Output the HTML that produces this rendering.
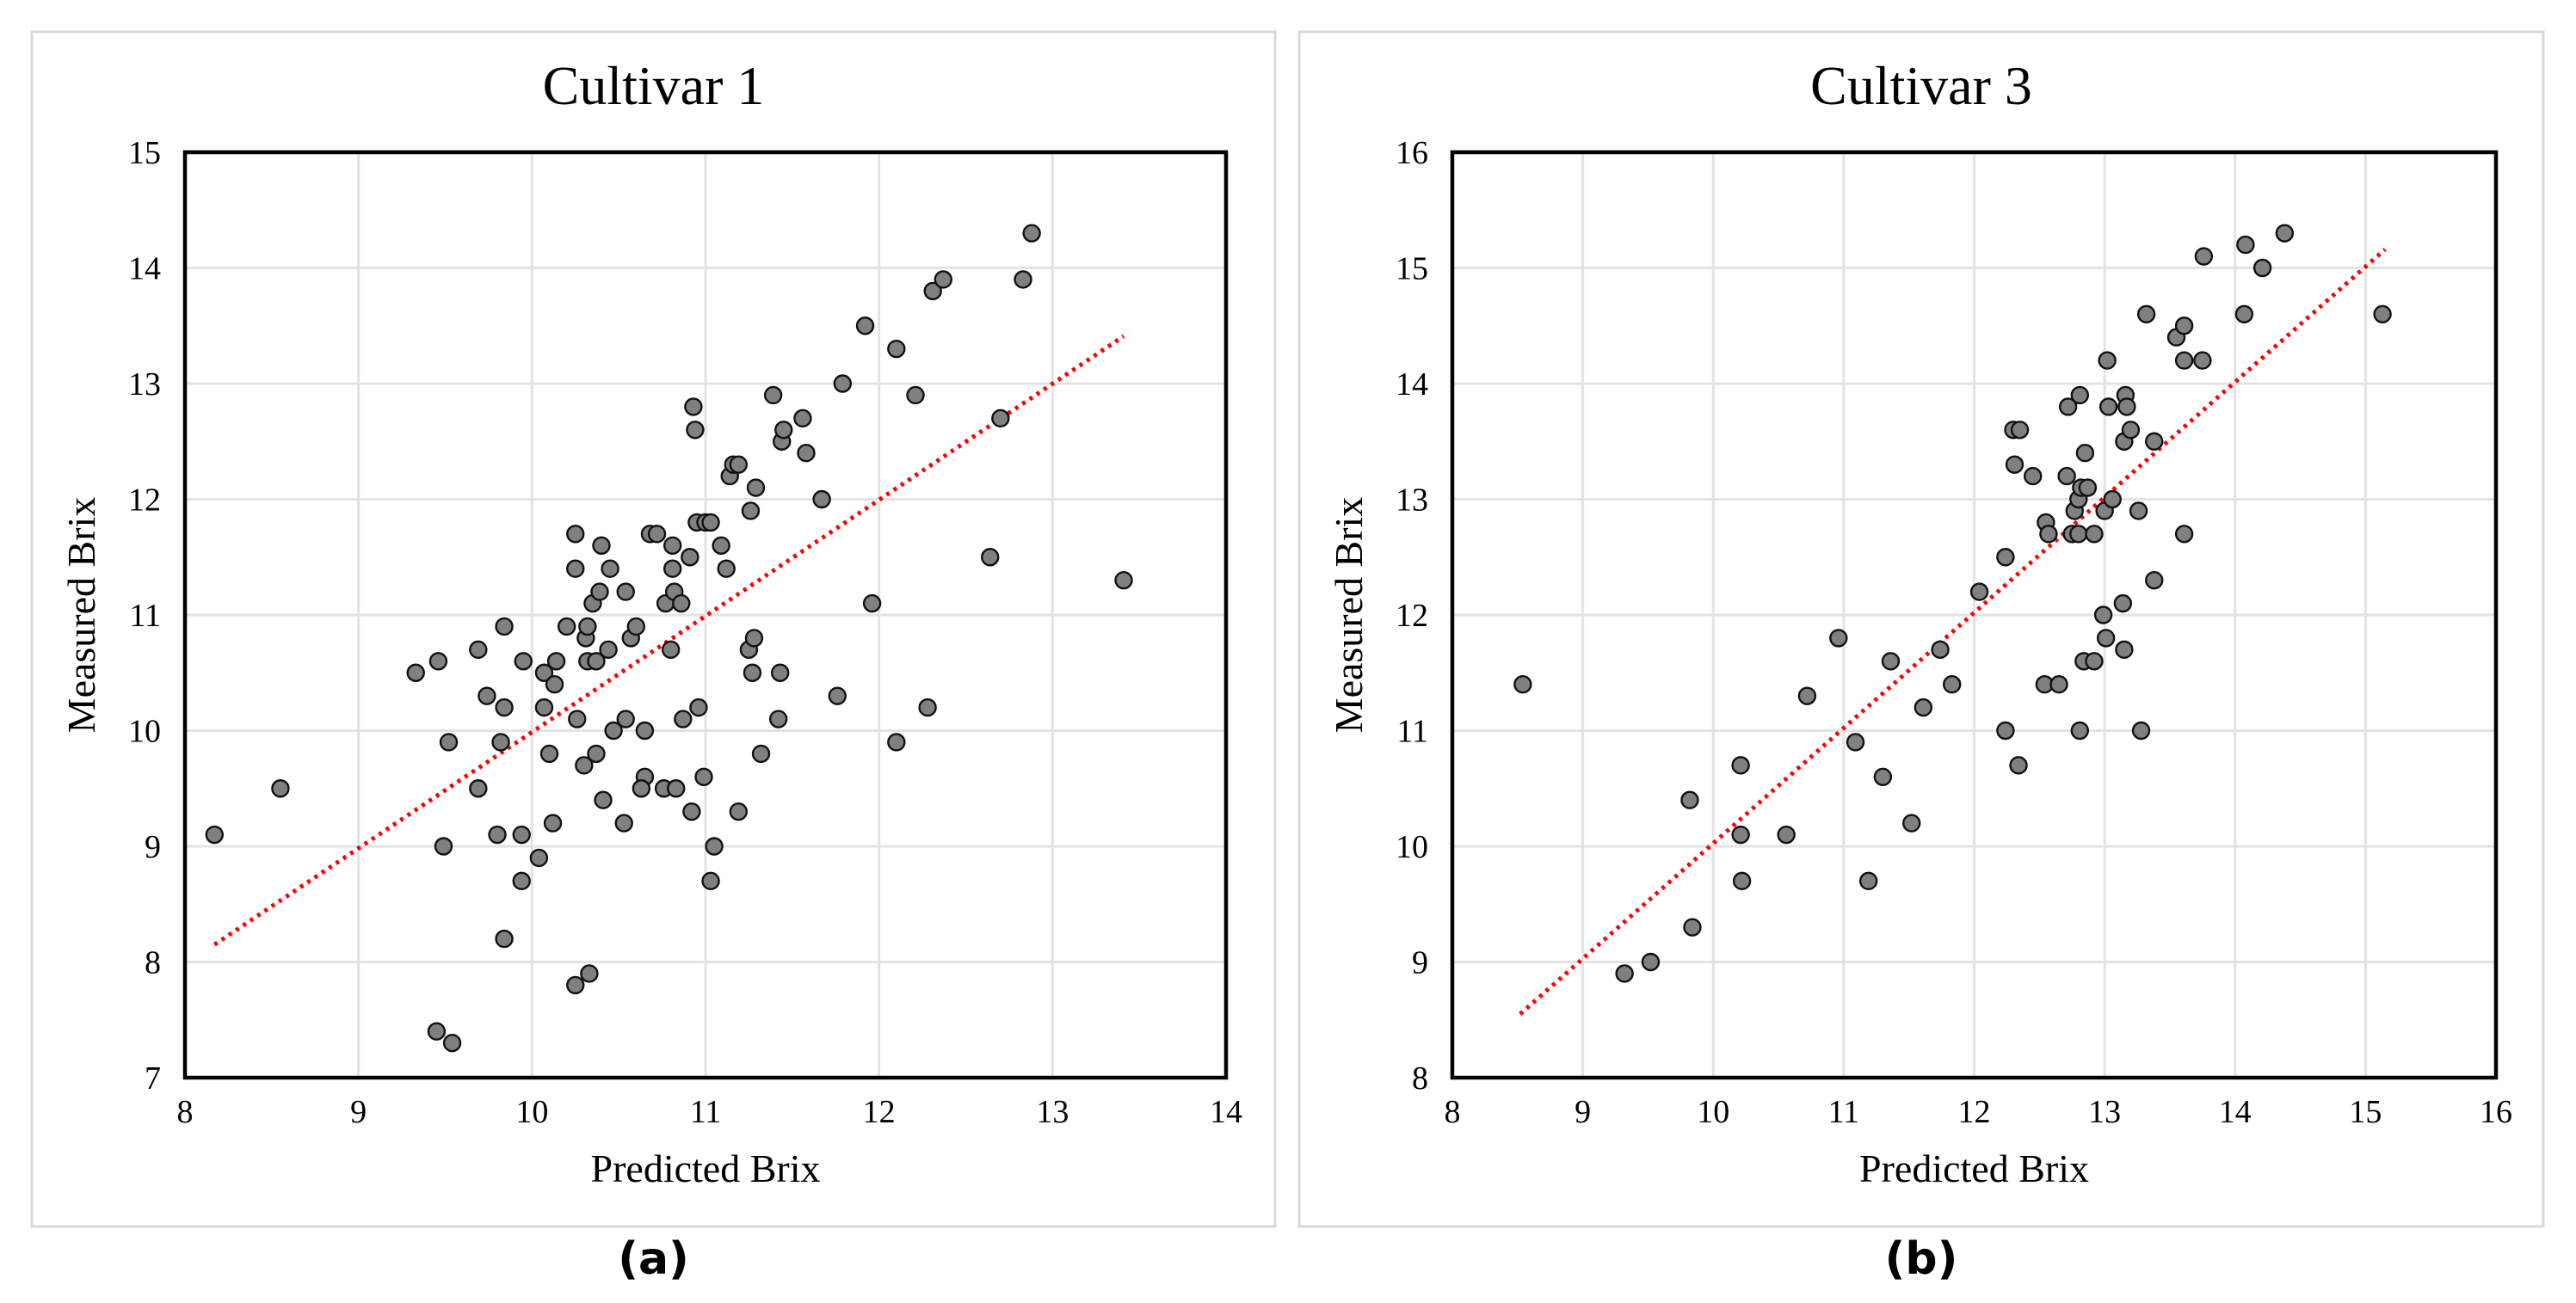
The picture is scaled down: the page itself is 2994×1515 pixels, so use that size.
<!DOCTYPE html>
<html><head><meta charset="utf-8"><style>
html,body{margin:0;padding:0;background:#fff;}
svg text{font-family:"Liberation Serif",serif;fill:#000;}
</style></head><body>
<svg id="fig" xmlns="http://www.w3.org/2000/svg" width="2994" height="1510" viewBox="0 0 2994 1510"></svg>
<script>
const aX=[8.17,8.55,9.33,9.46,9.74,9.69,9.84,9.84,9.82,9.52,9.69,9.49,9.80,9.94,9.94,9.84,9.45,9.54,10.25,10.33,10.04,10.12,10.10,10.07,10.07,9.95,10.14,10.13,10.20,10.25,10.25,10.26,10.30,10.31,10.32,10.32,10.37,10.35,10.39,10.40,10.45,10.37,10.41,10.44,10.47,10.54,10.53,10.54,10.57,10.60,10.65,10.65,10.63,10.68,10.72,10.77,10.76,10.80,10.81,10.81,10.82,10.83,10.86,10.87,10.91,10.92,10.93,10.94,10.95,10.96,10.99,11.00,11.05,11.03,11.03,11.09,11.12,11.14,11.16,11.19,11.19,11.26,11.29,11.25,11.28,11.27,11.32,11.39,11.44,11.45,11.43,11.42,11.56,11.58,11.67,11.76,11.79,11.92,11.96,12.10,12.10,12.21,12.28,12.31,12.37,12.64,12.70,12.83,12.88,13.41];
const aY=[9.1,9.5,10.5,10.6,10.3,10.7,10.9,10.2,9.9,9.9,9.5,9.0,9.1,9.1,8.7,8.2,7.4,7.3,7.8,7.9,8.9,9.2,9.8,10.2,10.5,10.6,10.6,10.4,10.9,11.7,11.4,10.1,9.7,10.8,10.9,10.6,10.6,11.1,11.2,11.6,11.4,9.8,9.4,10.7,10.0,10.1,9.2,11.2,10.8,10.9,10.0,9.6,9.5,11.7,11.7,11.1,9.5,10.7,11.6,11.4,11.2,9.5,11.1,10.1,11.5,9.3,12.8,12.6,11.8,10.2,9.6,11.8,9.0,8.7,11.8,11.6,11.4,12.2,12.3,12.3,9.3,11.9,12.1,10.7,10.8,10.5,9.8,12.9,12.5,12.6,10.5,10.1,12.7,12.4,12.0,10.3,13.0,13.5,11.1,13.3,9.9,12.9,10.2,13.8,13.9,11.5,12.7,13.9,14.3,11.3];
const aTrendX=[8.17,13.41];
const aTrendY=[8.15,13.41];
const bX=[8.54,9.32,9.52,9.82,9.84,10.21,10.21,10.22,10.56,10.72,10.96,11.09,11.19,11.30,11.36,11.52,11.61,11.74,11.83,12.04,12.24,12.24,12.34,12.30,12.35,12.31,12.45,12.54,12.55,12.57,12.65,12.71,12.72,12.75,12.77,12.80,12.81,12.81,12.80,12.82,12.85,12.84,12.87,12.92,12.92,12.99,13.00,13.01,13.02,13.03,13.06,13.14,13.15,13.15,13.16,13.17,13.20,13.26,13.28,13.32,13.38,13.38,13.55,13.61,13.61,13.61,13.75,13.76,14.07,14.08,14.21,14.38,15.13];
const bY=[11.4,8.9,9.0,10.4,9.3,10.7,10.1,9.7,10.1,11.3,11.8,10.9,9.7,10.6,11.6,10.2,11.2,11.7,11.4,12.2,12.5,11.0,10.7,13.6,13.6,13.3,13.2,11.4,12.8,12.7,11.4,13.2,13.8,12.7,12.9,12.7,13.9,11.0,13.0,13.1,13.4,11.6,13.1,12.7,11.6,12.0,12.9,11.8,14.2,13.8,13.0,12.1,11.7,13.5,13.9,13.8,13.6,12.9,11.0,14.6,13.5,12.3,14.4,14.5,14.2,12.7,14.2,15.1,14.6,15.2,15.0,15.3,14.6];
const bTrendX=[8.52,15.15];
const bTrendY=[8.55,15.16];
const aXTicks=[8,9,10,11,12,13,14];
const aYTicks=[7,8,9,10,11,12,13,14,15];
const bXTicks=[8,9,10,11,12,13,14,15,16];
const bYTicks=[8,9,10,11,12,13,14,15,16];

const NS="http://www.w3.org/2000/svg";
const svg=document.getElementById('fig');
function mk(tag,attrs,parent,txt){const e=document.createElementNS(NS,tag);for(const k in attrs)e.setAttribute(k,attrs[k]);if(txt!==undefined)e.textContent=txt;(parent||svg).appendChild(e);return e;}

function panel(id,box,plot,xT,yT,xs,ys,tx,ty,title,label){
  const g=mk('g',{});
  
  
  const fr=mk('rect',{x:box[0],y:box[1],width:box[2]-box[0],height:box[3]-box[1],fill:'#fff',stroke:'#d9d9d9','stroke-width':3},g);
  
  
  const [L,T,R,B]=plot;
  const x0=xT[0],x1=xT[xT.length-1],y0=yT[0],y1=yT[yT.length-1];
  const sx=v=>L+(v-x0)/(x1-x0)*(R-L);
  const sy=v=>B-(v-y0)/(y1-y0)*(B-T);
  xT.forEach(v=>{
    const gl=mk('line',{x1:sx(v),x2:sx(v),y1:T,y2:B,stroke:'#e3e3e3','stroke-width':3},g);
    
    
    const t=mk('text',{x:sx(v),y:1305,'font-size':38,'text-anchor':'middle'},g,String(v));
    
    
  });
  yT.forEach(v=>{
    const gl=mk('line',{x1:L,x2:R,y1:sy(v),y2:sy(v),stroke:'#e3e3e3','stroke-width':3},g);
    
    
    const t=mk('text',{x:L-28,y:sy(v)+13,'font-size':38,'text-anchor':'end'},g,String(v));
    
    
  });
  const pb=mk('rect',{x:L,y:T,width:R-L,height:B-T,fill:'none',stroke:'#000','stroke-width':4.5},g);
  
  
  const tl=mk('line',{x1:sx(tx[0]),y1:sy(ty[0]),x2:sx(tx[1]),y2:sy(ty[1]),stroke:'#ff0000','stroke-width':5,'stroke-dasharray':'4 6'},g);
  
  
  xs.forEach((v,i)=>{
    const c=mk('circle',{cx:sx(v),cy:sy(ys[i]),r:9.5,fill:'#808080',stroke:'#111','stroke-width':2.4},g);
    
    
  });
  const cx=(L+R)/2;
  const tt=mk('text',{x:(box[0]+box[2])/2,y:121,'font-size':64,'text-anchor':'middle'},g,title);
  
  
  const xa=mk('text',{x:cx,y:1374,'font-size':46,'text-anchor':'middle'},g,'Predicted Brix');
  
  
  const yax=box[0]+73;
  const ya=mk('text',{x:yax,y:(T+B)/2,'font-size':46,'text-anchor':'middle',transform:`rotate(-90 ${yax} ${(T+B)/2})`},g,'Measured Brix');
  
  
  const lb=mk('text',{x:(box[0]+box[2])/2,y:1481,'font-size':52,'font-weight':'600','text-anchor':'middle',style:'font-family:"DejaVu Sans",sans-serif'},g,label);
  
  
}
panel('panel-a',[37,37,1482,1426],[215,177,1425,1253],aXTicks,aYTicks,aX,aY,aTrendX,aTrendY,'Cultivar 1','(a)');
panel('panel-b',[1510,37,2956,1426],[1688,177,2901,1253],bXTicks,bYTicks,bX,bY,bTrendX,bTrendY,'Cultivar 3','(b)');
</script>
</body></html>
